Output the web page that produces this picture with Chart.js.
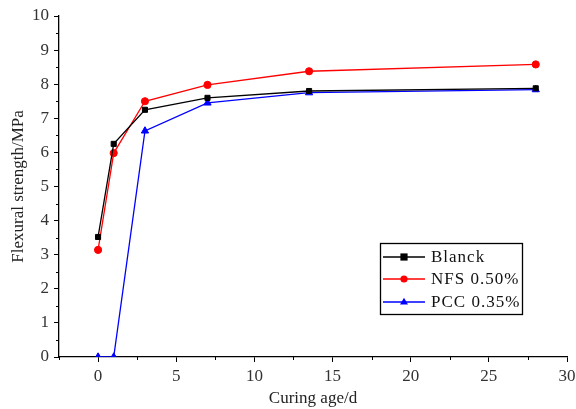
<!DOCTYPE html>
<html>
<head>
<meta charset="utf-8">
<script src="https://cdn.jsdelivr.net/npm/chart.js@4/dist/chart.umd.min.js"></script>
<style>
html,body{margin:0;padding:0;background:#fff;}
#wrap{width:576px;height:409px;position:relative;}
</style>
</head>
<body>
<div id="wrap"><canvas id="c" width="576" height="409"></canvas></div>
<script>
// Data
const curingAge = [0, 1, 3, 7, 13.5, 28];
const blanck = [3.52, 6.25, 7.25, 7.6, 7.8, 7.88];
const nfs050 = [3.14, 5.98, 7.5, 7.98, 8.38, 8.58];
const pcc035 = [0, 0, 6.63, 7.45, 7.75, 7.84];
const seriesNames = ['Blanck', 'NFS 0.50%', 'PCC 0.35%'];
const xTicks = [0, 5, 10, 15, 20, 25, 30];
const yTicks = [0, 1, 2, 3, 4, 5, 6, 7, 8, 9, 10];
const xMinor = [-2.5, 2.5, 7.5, 12.5, 17.5, 22.5, 27.5];
const yMinor = [0.5, 1.5, 2.5, 3.5, 4.5, 5.5, 6.5, 7.5, 8.5, 9.5];

const FONT = "'Liberation Serif', 'Times New Roman', serif";
const toPts = ys => curingAge.map((x, i) => ({x: x, y: ys[i]}));

const colors = ['#000000', '#ff0000', '#0000ff'];
const shapes = ['rect', 'circle', 'triangle'];
const radii = [3.6, 3.6, 4.2];
const allSeries = [blanck, nfs050, pcc035];

const datasets = allSeries.map((ys, i) => ({
  label: seriesNames[i],
  data: toPts(ys),
  showLine: true,
  borderColor: colors[i],
  backgroundColor: colors[i],
  borderWidth: 1.3,
  pointStyle: shapes[i],
  pointRadius: radii[i],
  pointBorderWidth: 1,
  pointBorderColor: colors[i],
  pointBackgroundColor: colors[i],
  tension: 0
}));

const minorTicks = {
  id: 'minorTicks',
  afterDraw(chart) {
    const ctx = chart.ctx;
    const xs = chart.scales.x, ys = chart.scales.y;
    ctx.save();
    ctx.strokeStyle = '#000';
    ctx.lineWidth = 1;
    ctx.beginPath();
    xMinor.forEach(v => {
      const px = Math.round(xs.getPixelForValue(v)) + 0.5;
      ctx.moveTo(px, ys.bottom);
      ctx.lineTo(px, ys.bottom + 3);
    });
    yMinor.forEach(v => {
      const py = Math.round(ys.getPixelForValue(v)) + 0.5;
      ctx.moveTo(xs.left, py);
      ctx.lineTo(xs.left - 3, py);
    });
    ctx.stroke();
    ctx.restore();
  }
};

const boxLegend = {
  id: 'boxLegend',
  afterDraw(chart) {
    const ctx = chart.ctx;
    const bx = 380.5, by = 243.5, bw = 142, bh = 71;
    ctx.save();
    ctx.strokeStyle = '#000';
    ctx.lineWidth = 1.3;
    ctx.strokeRect(bx, by, bw, bh);
    ctx.font = '17px ' + FONT;
    ctx.textBaseline = 'middle';
    const rows = [257, 279, 302];
    chart.data.datasets.forEach((ds, i) => {
      const y = rows[i];
      ctx.strokeStyle = ds.borderColor;
      ctx.lineWidth = 1.3;
      ctx.beginPath();
      ctx.moveTo(383, y);
      ctx.lineTo(425, y);
      ctx.stroke();
      ctx.fillStyle = ds.borderColor;
      const cx = 404, r = ds.pointRadius;
      ctx.beginPath();
      if (ds.pointStyle === 'rect') {
        ctx.rect(cx - r, y - r, 2 * r, 2 * r);
      } else if (ds.pointStyle === 'circle') {
        ctx.arc(cx, y, r, 0, Math.PI * 2);
      } else {
        ctx.moveTo(cx, y - r);
        ctx.lineTo(cx + r * 0.95, y + r * 0.6);
        ctx.lineTo(cx - r * 0.95, y + r * 0.6);
        ctx.closePath();
      }
      ctx.fill();
      ctx.fillStyle = '#111';
      ctx.letterSpacing = '1px';
      ctx.fillText(ds.label, 431, y + 1);
      ctx.letterSpacing = '0px';
    });
    ctx.restore();
  }
};

new Chart(document.getElementById('c'), {
  type: 'scatter',
  data: { datasets: datasets },
  plugins: [minorTicks, boxLegend],
  options: {
    responsive: false,
    animation: false,
    devicePixelRatio: 1,
    layout: { padding: { top: 16, right: 9, left: 0, bottom: 0 } },
    plugins: { legend: { display: false }, tooltip: { enabled: false } },
    scales: {
      x: {
        type: 'linear',
        min: -2.5, max: 30,
        afterBuildTicks: s => { s.ticks = xTicks.map(v => ({value: v})); },
        afterFit: s => { s.height = 52; s.paddingRight = 0; s.paddingLeft = 0; },
        grid: { drawOnChartArea: false, drawTicks: true, tickLength: 5, color: '#000', tickColor: '#000' },
        border: { display: true, color: '#000', width: 1.3 },
        ticks: { color: '#333', font: { family: FONT, size: 17 }, padding: 4, maxRotation: 0 },
        title: { display: true, text: 'Curing age/d', color: '#222', font: { family: FONT, size: 17 }, padding: { top: 0, bottom: 0 } }
      },
      y: {
        type: 'linear',
        min: 0, max: 10,
        afterBuildTicks: s => { s.ticks = yTicks.map(v => ({value: v})); },
        afterFit: s => { s.width = 59; s.paddingTop = 0; s.paddingBottom = 0; },
        grid: { drawOnChartArea: false, drawTicks: true, tickLength: 5, color: '#000', tickColor: '#000' },
        border: { display: true, color: '#000', width: 1.3 },
        ticks: { color: '#333', font: { family: FONT, size: 17 }, padding: 5 },
        title: { display: true, text: 'Flexural strength/MPa', color: '#222', font: { family: FONT, size: 17 }, padding: { top: 8, bottom: 0 } }
      }
    }
  }
});
</script>
</body>
</html>
